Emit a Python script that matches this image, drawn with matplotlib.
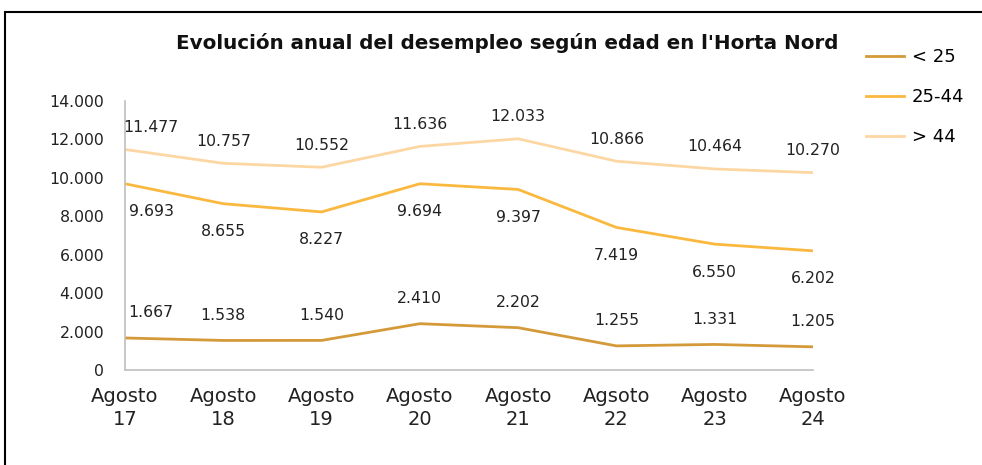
import matplotlib.pyplot as plt
from matplotlib.patches import Rectangle

periodos = ["Agosto\n17", "Agosto\n18", "Agosto\n19", "Agosto\n20",
            "Agosto\n21", "Agsoto\n22", "Agosto\n23", "Agosto\n24"]
menores_25 = [1667, 1538, 1540, 2410, 2202, 1255, 1331, 1205]
entre_25_44 = [9693, 8655, 8227, 9694, 9397, 7419, 6550, 6202]
mayores_44 = [11477, 10757, 10552, 11636, 12033, 10866, 10464, 10270]
yticks = [0, 2000, 4000, 6000, 8000, 10000, 12000, 14000]


def fmt(v):
    return f"{v:,}".replace(",", ".")


fig = plt.figure(figsize=(9.82, 4.65), dpi=100)
ax = fig.add_axes([0.1273, 0.2043, 0.7006, 0.5785])

x = list(range(len(periodos)))
series = [
    ("< 25", menores_25, "#D49A3A", 25),
    ("25-44", entre_25_44, "#FBB83F", -28),
    ("> 44", mayores_44, "#FDD7A3", 22),
]
for nombre, vals, color, dy in series:
    ax.plot(x, vals, color=color, lw=2.0, label=nombre, solid_joinstyle="round")
    for i, v in enumerate(vals):
        dx = 26 if i == 0 else 0
        ax.annotate(fmt(v), (i, v), xytext=(dx, dy), textcoords="offset pixels",
                    ha="center", va="center", fontsize=11.3, color="#222222")

ax.set_xlim(0, 7)
ax.set_ylim(0, 14000)
ax.set_xticks(x)
ax.set_xticklabels(periodos, fontsize=14, linespacing=1.3)
ax.set_yticks(yticks)
ax.set_yticklabels([fmt(v) for v in yticks], fontsize=11.3)
ax.tick_params(axis="both", length=0, colors="#222222")
ax.tick_params(axis="y", pad=15)
ax.tick_params(axis="x", pad=12)
for s in ["top", "right"]:
    ax.spines[s].set_visible(False)
for s in ["left", "bottom"]:
    ax.spines[s].set_color("#BFBFBF")
    ax.spines[s].set_linewidth(1.2)

fig.text(0.516, 0.908, "Evolución anual del desempleo según edad en l'Horta Nord",
         ha="center", va="center", fontsize=14.3, fontweight="bold", color="#111111")

fig.legend(loc="upper left", bbox_to_anchor=(0.865, 0.932), frameon=False,
           fontsize=13, handlelength=2.15, labelspacing=1.22, handletextpad=0.4)

fig.patches.append(Rectangle((5 / 982, -0.1), 1.1, 1.1 - 12 / 465,
                             transform=fig.transFigure, fill=False,
                             edgecolor="black", lw=1.5))

fig.savefig("out.png", dpi=100)
